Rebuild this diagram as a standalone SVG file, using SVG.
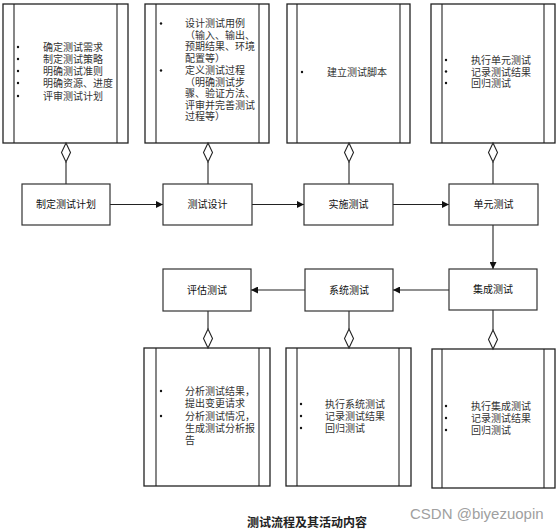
<svg xmlns="http://www.w3.org/2000/svg" width="560" height="531" viewBox="0 0 560 531">
<style>
.panel{fill:#fff;stroke:#222;stroke-width:1.3}
.inner{stroke:#222;stroke-width:1.1}
.box{fill:#fff;stroke:#333;stroke-width:1.2}
.lbl{font-family:"Liberation Serif","Noto Sans CJK SC",sans-serif;font-size:10px;fill:#111;text-anchor:middle;dominant-baseline:central}
.t{font-family:"Liberation Serif","Noto Sans CJK SC",sans-serif;font-size:10px;fill:#333}
.b{fill:#111}
.ln{stroke:#222;stroke-width:1.1;fill:none}
.dia{fill:#fff;stroke:#222;stroke-width:1.1}
</style>
<defs>
<marker id="arr" viewBox="0 0 10 10" refX="10" refY="5" markerWidth="7" markerHeight="7" orient="auto" markerUnits="userSpaceOnUse">
<path d="M0,0 L10,5 L0,10 z" fill="#111"/>
</marker>
</defs>
<rect width="560" height="531" fill="#fff"/>

<g id="panel-plan">
<rect class="panel" x="3" y="4" width="125" height="139"/>
<line class="inner" x1="14" y1="4" x2="14" y2="143"/>
<line class="inner" x1="117" y1="4" x2="117" y2="143"/>
<circle class="b" cx="18" cy="47" r="1.2"/><circle class="b" cx="18" cy="59" r="1.2"/><circle class="b" cx="18" cy="71" r="1.2"/><circle class="b" cx="18" cy="83" r="1.2"/><circle class="b" cx="18" cy="96" r="1.2"/>
<text class="t" x="43" y="51">确定测试需求</text>
<text class="t" x="43" y="63">制定测试策略</text>
<text class="t" x="43" y="75">明确测试准则</text>
<text class="t" x="43" y="87">明确资源、进度</text>
<text class="t" x="43" y="100">评审测试计划</text>
</g>

<g id="panel-design">
<rect class="panel" x="145" y="4" width="124" height="139"/>
<line class="inner" x1="156" y1="4" x2="156" y2="143"/>
<line class="inner" x1="259" y1="4" x2="259" y2="143"/>
<circle class="b" cx="161" cy="23.5" r="1.2"/><circle class="b" cx="161" cy="70.5" r="1.2"/>
<text class="t" x="185" y="27">设计测试用例</text>
<text class="t" x="185" y="38.5">（输入、输出、</text>
<text class="t" x="185" y="50">预期结果、环境</text>
<text class="t" x="185" y="61.5">配置等）</text>
<text class="t" x="185" y="74">定义测试过程</text>
<text class="t" x="185" y="85.5">（明确测试步</text>
<text class="t" x="185" y="97">骤、验证方法、</text>
<text class="t" x="185" y="108.5">评审并完善测试</text>
<text class="t" x="185" y="120">过程等）</text>
</g>

<g id="panel-impl">
<rect class="panel" x="287" y="4" width="123" height="139"/>
<line class="inner" x1="297" y1="4" x2="297" y2="143"/>
<line class="inner" x1="400" y1="4" x2="400" y2="143"/>
<circle class="b" cx="302" cy="72" r="1.2"/>
<text class="t" x="327" y="76">建立测试脚本</text>
</g>

<g id="panel-unit">
<rect class="panel" x="431" y="4" width="124" height="139"/>
<line class="inner" x1="442" y1="4" x2="442" y2="143"/>
<line class="inner" x1="544" y1="4" x2="544" y2="143"/>
<circle class="b" cx="446" cy="60" r="1.2"/><circle class="b" cx="446" cy="71.5" r="1.2"/><circle class="b" cx="446" cy="83" r="1.2"/>
<text class="t" x="471" y="64">执行单元测试</text>
<text class="t" x="471" y="75.5">记录测试结果</text>
<text class="t" x="471" y="87">回归测试</text>
</g>

<g id="panel-eval">
<rect class="panel" x="144" y="348" width="126" height="138"/>
<line class="inner" x1="156" y1="348" x2="156" y2="486"/>
<line class="inner" x1="259" y1="348" x2="259" y2="486"/>
<circle class="b" cx="161" cy="391" r="1.2"/><circle class="b" cx="161" cy="416" r="1.2"/>
<text class="t" x="185" y="395">分析测试结果，</text>
<text class="t" x="185" y="407">提出变更请求</text>
<text class="t" x="185" y="420">分析测试情况，</text>
<text class="t" x="185" y="432">生成测试分析报</text>
<text class="t" x="185" y="444">告</text>
</g>

<g id="panel-system">
<rect class="panel" x="286" y="348" width="125" height="138"/>
<line class="inner" x1="297" y1="348" x2="297" y2="486"/>
<line class="inner" x1="399" y1="348" x2="399" y2="486"/>
<circle class="b" cx="301" cy="404" r="1.2"/><circle class="b" cx="301" cy="416" r="1.2"/><circle class="b" cx="301" cy="428" r="1.2"/>
<text class="t" x="325" y="408">执行系统测试</text>
<text class="t" x="325" y="420">记录测试结果</text>
<text class="t" x="325" y="432">回归测试</text>
</g>

<g id="panel-integ">
<rect class="panel" x="432" y="349" width="123" height="139"/>
<line class="inner" x1="442" y1="349" x2="442" y2="488"/>
<line class="inner" x1="544" y1="349" x2="544" y2="488"/>
<circle class="b" cx="446" cy="406" r="1.2"/><circle class="b" cx="446" cy="418" r="1.2"/><circle class="b" cx="446" cy="430" r="1.2"/>
<text class="t" x="471" y="410">执行集成测试</text>
<text class="t" x="471" y="422">记录测试结果</text>
<text class="t" x="471" y="434">回归测试</text>
</g>

<g id="connectors">
<path class="ln" d="M66,162 V184"/><path class="dia" d="M66,143 L70.5,152.5 L66,162 L61.5,152.5 Z"/>
<path class="ln" d="M208,162 V184"/><path class="dia" d="M208,143 L212.5,152.5 L208,162 L203.5,152.5 Z"/>
<path class="ln" d="M349,162 V184"/><path class="dia" d="M349,143 L353.5,152.5 L349,162 L344.5,152.5 Z"/>
<path class="ln" d="M493,162 V184"/><path class="dia" d="M493,143 L497.5,152.5 L493,162 L488.5,152.5 Z"/>
<path class="ln" d="M208,311 V329"/><path class="dia" d="M208,329 L212.5,338.5 L208,348 L203.5,338.5 Z"/>
<path class="ln" d="M349,311 V329"/><path class="dia" d="M349,329 L353.5,338.5 L349,348 L344.5,338.5 Z"/>
<path class="ln" d="M493,310 V330"/><path class="dia" d="M493,330 L497.5,339.5 L493,349 L488.5,339.5 Z"/>
<path class="ln" d="M110,204.5 H163" marker-end="url(#arr)"/>
<path class="ln" d="M252,204.5 H304" marker-end="url(#arr)"/>
<path class="ln" d="M393,204.5 H449" marker-end="url(#arr)"/>
<path class="ln" d="M493,225 V269" marker-end="url(#arr)"/>
<path class="ln" d="M449,290 H393" marker-end="url(#arr)"/>
<path class="ln" d="M305,290 H251" marker-end="url(#arr)"/>
</g>

<g id="n-plan"><rect class="box" x="22" y="184" width="88" height="41"/><text class="lbl" x="66" y="204.5">制定测试计划</text></g>
<g id="n-design"><rect class="box" x="163" y="184" width="89" height="41"/><text class="lbl" x="207.5" y="204.5">测试设计</text></g>
<g id="n-impl"><rect class="box" x="304" y="184" width="89" height="41"/><text class="lbl" x="348.5" y="204.5">实施测试</text></g>
<g id="n-unit"><rect class="box" x="449" y="184" width="89" height="41"/><text class="lbl" x="493.5" y="204.5">单元测试</text></g>
<g id="n-integ"><rect class="box" x="449" y="269" width="88" height="41"/><text class="lbl" x="493" y="289.5">集成测试</text></g>
<g id="n-system"><rect class="box" x="305" y="269" width="88" height="42"/><text class="lbl" x="349" y="290">系统测试</text></g>
<g id="n-eval"><rect class="box" x="163" y="269" width="88" height="42"/><text class="lbl" x="207" y="290">评估测试</text></g>

<text x="307" y="523" text-anchor="middle" dominant-baseline="central" font-family="Liberation Serif, Noto Sans CJK SC, sans-serif" font-size="12" font-weight="bold" fill="#222">测试流程及其活动内容</text>
<text x="410" y="513" dominant-baseline="central" font-family="Liberation Sans, Arial, sans-serif" font-size="15" fill="#a0a0a0">CSDN @biyezuopin</text>
</svg>
